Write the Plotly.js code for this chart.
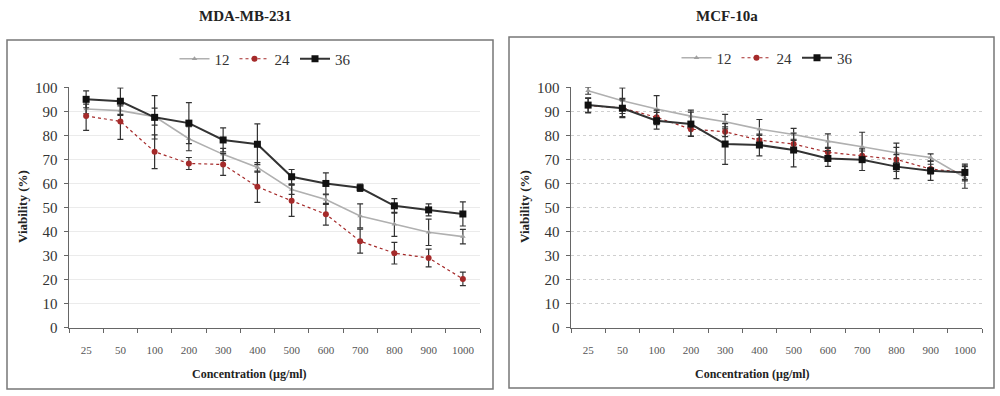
<!DOCTYPE html>
<html>
<head>
<meta charset="utf-8">
<script src="https://cdn.plot.ly/plotly-3.0.1.min.js"></script>
<style>html,body{margin:0;padding:0;background:#fff;}#chart{width:1000px;height:396px;}</style>
</head>
<body>
<div id="chart"></div>
<script>
var cats = ['25','50','100','200','300','400','500','600','700','800','900','1000'];
var seriesNames = ['12','24','36'];

var mda12 = [91.0, 90.3, 87.8, 78.6, 72.1, 66.7, 57.5, 53.3, 46.5, 43.0, 39.7, 37.9];
var mda12err = [2, 2, 3.5, 5, 2.5, 2, 2, 2, 5, 5, 5.5, 3];
var mda24 = [88.1, 85.8, 73.2, 68.3, 67.9, 58.6, 52.8, 47.2, 36.0, 31.0, 29.0, 20.3];
var mda24err = [6, 7.5, 7, 2.5, 4.5, 6.5, 6.5, 4.5, 5, 4.5, 3.7, 2.8];
var mda36 = [95.0, 94.2, 87.5, 85.1, 78.1, 76.3, 62.8, 60.0, 58.2, 50.7, 49.0, 47.3];
var mda36err = [3.5, 5.5, 9, 8.5, 5, 8.5, 3, 4.4, 1.5, 3, 2.5, 5];

var mcf12 = [98.6, 94.4, 91.0, 88.0, 85.7, 82.6, 80.4, 77.6, 75.3, 72.8, 70.8, 62.5];
var mcf12err = [1.5, 5.3, 5.5, 2.5, 3, 4, 2.5, 3, 6, 4, 1.5, 4.5];
var mcf24 = [92.4, 91.4, 87.5, 82.6, 81.5, 78.0, 76.4, 73.0, 71.5, 70.0, 66.0, 64.6];
var mcf24err = [3, 4, 3, 3, 2, 2, 2, 2, 2, 5, 2, 3];
var mcf36 = [92.6, 91.3, 86.1, 84.7, 76.4, 76.0, 73.9, 70.4, 69.9, 67.0, 65.3, 64.6];
var mcf36err = [3, 3.5, 3.5, 5, 8.5, 4.5, 7, 3.3, 4.5, 5, 4, 3.5];

var serif = 'Liberation Serif, Times New Roman, serif';
var styles = [
  {line:{color:'#b0b0b0', width:1.6}, marker:{symbol:'triangle-up', size:5, color:'#a0a0a0'}},
  {line:{color:'#a52a2a', width:1.2, dash:'dot'}, marker:{symbol:'circle', size:6, color:'#a52a2a'}},
  {line:{color:'#333333', width:2}, marker:{symbol:'square', size:7, color:'#111111'}}
];

function mk(name, y, err, s, xa, ya, leg) {
  return {
    type:'scatter', mode:'lines+markers', name:name, x:cats, y:y,
    xaxis:xa, yaxis:ya, legend:leg, cliponaxis:false,
    line:styles[s].line, marker:styles[s].marker,
    error_y:{type:'data', array:err, visible:true, color:'#333', thickness:1.2, width:3}
  };
}

var data = [
  mk(seriesNames[0], mda12, mda12err, 0, 'x', 'y', 'legend'),
  mk(seriesNames[1], mda24, mda24err, 1, 'x', 'y', 'legend'),
  mk(seriesNames[2], mda36, mda36err, 2, 'x', 'y', 'legend'),
  mk(seriesNames[0], mcf12, mcf12err, 0, 'x2', 'y2', 'legend2'),
  mk(seriesNames[1], mcf24, mcf24err, 1, 'x2', 'y2', 'legend2'),
  mk(seriesNames[2], mcf36, mcf36err, 2, 'x2', 'y2', 'legend2')
];

function xax(dom, anchor) {
  return {domain:dom, anchor:anchor, type:'category', range:[-0.5, 11.5],
    showline:true, linecolor:'#666', linewidth:1.5, ticks:'outside', ticklen:4, tickcolor:'#666',
    tickson:'boundaries', showgrid:false, zeroline:false, ticklabelstandoff:12,
    tickfont:{family:serif, size:11, color:'#555'}, fixedrange:true};
}
function yax(dom, anchor, dash) {
  return {domain:dom, anchor:anchor, range:[0, 100], dtick:10, tick0:0,
    showline:true, linecolor:'#666', linewidth:1.5, ticks:'outside', ticklen:4, tickcolor:'#666',
    showgrid:true, gridcolor: dash ? '#cfcfcf' : '#ebebeb', griddash: dash ? 'dot' : 'solid', gridwidth:1,
    zeroline:false, ticklabelstandoff:3,
    tickfont:{family:serif, size:15, color:'#333'}, fixedrange:true};
}

var ydom = [1 - 327.7/396, 1 - 87.3/396];
function ann(text, x, y, size, angle) {
  return {text:text, xref:'paper', yref:'paper', x:x/1000, y:1 - y/396, xanchor:'center', yanchor:'middle',
    textangle:angle || 0, showarrow:false, font:{family:serif, size:size, color:'#222'}};
}
var layout = {
  width:1000, height:396, margin:{l:0, r:0, t:0, b:0},
  paper_bgcolor:'#fff', plot_bgcolor:'rgba(0,0,0,0)', showlegend:true,
  xaxis: xax([0.069, 0.480], 'y'),
  yaxis: yax(ydom, 'x', false),
  xaxis2: xax([0.571, 0.982], 'y2'),
  yaxis2: yax(ydom, 'x2', true),
  legend:{orientation:'h', x:0.265, xanchor:'center', y:1 - 59/396, yanchor:'middle',
    font:{family:serif, size:15, color:'#333'}, bgcolor:'rgba(0,0,0,0)', itemwidth:30, tracegroupgap:0},
  legend2:{orientation:'h', x:0.767, xanchor:'center', y:1 - 58/396, yanchor:'middle',
    font:{family:serif, size:15, color:'#333'}, bgcolor:'rgba(0,0,0,0)', itemwidth:30, tracegroupgap:0},
  shapes:[
    {type:'rect', xref:'paper', yref:'paper', x0:7/1000, x1:493/1000, y0:1-389/396, y1:1-40/396,
     line:{color:'#777', width:1.5}, layer:'below'},
    {type:'rect', xref:'paper', yref:'paper', x0:509/1000, x1:994/1000, y0:1-388/396, y1:1-37/396,
     line:{color:'#777', width:1.5}, layer:'below'}
  ],
  annotations:[
    ann('<b>MDA-MB-231</b>', 245, 16, 15),
    ann('<b>MCF-10a</b>', 727, 16, 15),
    ann('<b>Viability (%)</b>', 22, 207, 13, -90),
    ann('<b>Viability (%)</b>', 524, 207, 13, -90),
    ann('<b>Concentration (µg/ml)</b>', 249, 374, 12),
    ann('<b>Concentration (µg/ml)</b>', 752, 374, 12)
  ]
};

Plotly.newPlot('chart', data, layout, {displayModeBar:false, staticPlot:true});
</script>
</body>
</html>
